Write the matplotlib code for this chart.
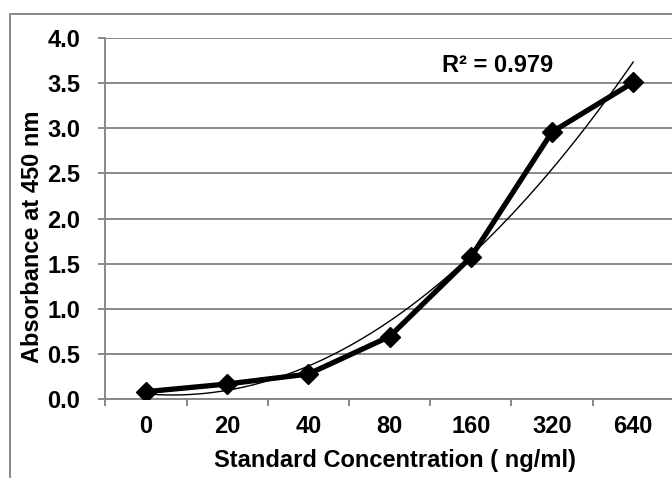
import numpy as np
import matplotlib
matplotlib.use("Agg")
import matplotlib.pyplot as plt
from matplotlib.patches import Rectangle

plt.rcParams['font.family'] = ['Liberation Sans', 'DejaVu Sans']
plt.rcParams['font.weight'] = 'bold'

# standard curve data
concentrations = ['0', '20', '40', '80', '160', '320', '640']
absorbance = [0.078, 0.163, 0.274, 0.69, 1.57, 2.96, 3.51]
yticks = [0.0, 0.5, 1.0, 1.5, 2.0, 2.5, 3.0, 3.5, 4.0]

grey = '#888888'
fs = 17

fig = plt.figure(figsize=(6.72, 4.78), dpi=100)
ax = fig.add_axes([105.4 / 672, 79.3 / 478, 568.4 / 672, 360.4 / 478])

pos = np.arange(len(concentrations))

# polynomial (order 2) trendline, as in Excel (x = 1..n)
xs = pos + 1
coef = np.polyfit(xs, absorbance, 2)
xf = np.linspace(xs[0], xs[-1], 200)
ax.plot(xf - 1, np.polyval(coef, xf), color='black', lw=1.0, zorder=3)

ax.plot(pos, absorbance, color='black', lw=3.8, marker='D', ms=10.5,
        mec='black', mfc='black', zorder=4)

ax.set_xlim(-0.5, len(concentrations) - 0.5)
ax.set_ylim(0, 4.0)
ax.set_yticks(yticks)
ax.set_yticklabels(['%.1f' % v for v in yticks], fontsize=fs, fontweight='bold')
ax.yaxis.grid(True, color=grey, lw=1.4)
ax.set_axisbelow(True)

# ticks at category boundaries, labels at centres
ax.set_xticks(np.arange(-0.5, len(concentrations), 1.0))
ax.set_xticklabels([])
ax.set_xticks(pos, minor=True)
ax.set_xticklabels(concentrations, minor=True, fontsize=fs, fontweight='bold')
ax.tick_params(axis='x', which='minor', length=0, pad=12)
ax.tick_params(axis='x', which='major', length=5, width=1.4, color=grey)
ax.tick_params(axis='y', length=5, width=1.4, color=grey, pad=13)

for s in ['top', 'right']:
    ax.spines[s].set_visible(False)
for s in ['left', 'bottom']:
    ax.spines[s].set_color(grey)
    ax.spines[s].set_linewidth(1.4)

fig.text(498 / 672, 1 - 65 / 478, 'R² = 0.979', ha='center', va='center',
         fontsize=fs, fontweight='bold')

fig.text(33 / 672, 1 - 237 / 478, 'Absorbance at 450 nm', rotation=90,
         ha='center', va='center', fontsize=fs, fontweight='bold')
fig.text(394.5 / 672, 18 / 478, 'Standard Concentration ( ng/ml)',
         ha='center', va='center', fontsize=fs, fontweight='bold')

fig.patches.append(Rectangle((9.5 / 672, -0.2), 2, 1.2 - 14 / 478,
                             transform=fig.transFigure, fill=False,
                             edgecolor=grey, lw=1.4))

fig.savefig('out.png', dpi=100)
